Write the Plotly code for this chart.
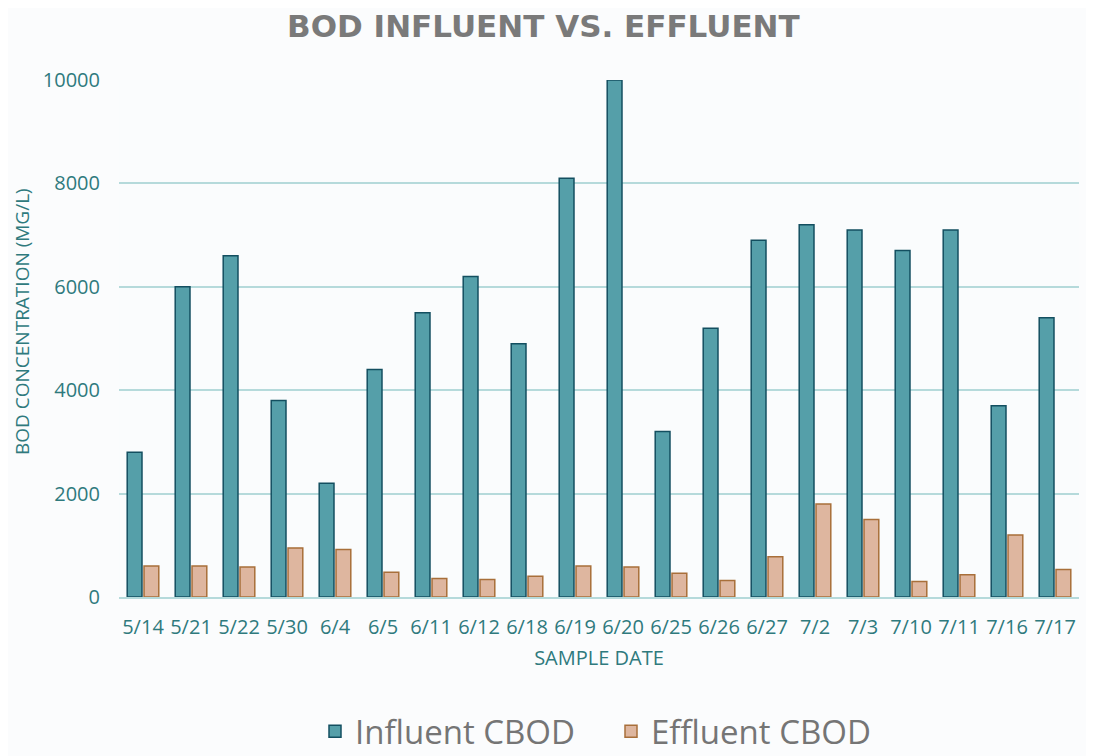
import plotly.graph_objects as go

dates = ["5/14", "5/21", "5/22", "5/30", "6/4", "6/5", "6/11", "6/12", "6/18", "6/19",
         "6/20", "6/25", "6/26", "6/27", "7/2", "7/3", "7/10", "7/11", "7/16", "7/17"]
influent = [2800, 6000, 6600, 3800, 2200, 4400, 5500, 6200, 4900, 8100,
            10000, 3200, 5200, 6900, 7200, 7100, 6700, 7100, 3700, 5400]
effluent = [600, 600, 580, 950, 920, 480, 360, 340, 400, 600,
            580, 460, 320, 780, 1800, 1500, 300, 430, 1200, 530]

teal = "#2f7a7d"

fig = go.Figure()
fig.add_trace(go.Bar(
    x=dates, y=influent, name="Influent CBOD",
    marker=dict(color="#559fa9", line=dict(color="#134f60", width=1.5)),
))
fig.add_trace(go.Bar(
    x=dates, y=effluent, name="Effluent CBOD",
    marker=dict(color="#deb69f", line=dict(color="#a86f3a", width=1.5)),
))

# y axis title as annotation so it can sit a little above centre like the original
fig.add_annotation(text="BOD CONCENTRATION (MG/L)", textangle=-90,
                   xref="paper", yref="paper", x=-0.101, y=0.532,
                   xanchor="center", yanchor="middle",
                   showarrow=False, font=dict(size=19, color=teal))

fig.update_layout(
    width=1086, height=748,
    barmode="group", bargap=0.3, bargroupgap=0.12,
    paper_bgcolor="#fbfcfd", plot_bgcolor="#fafcfd",
    margin=dict(l=111, r=15, t=72, b=159),
    title=dict(text="<b>BOD INFLUENT VS. EFFLUENT</b>", x=0.493, xanchor="center",
               y=0.976, yanchor="middle",
               font=dict(family="DejaVu Sans", size=31, color="#7a7a7a")),
    font=dict(family="Open Sans", color=teal),
    xaxis=dict(
        title=dict(text="SAMPLE DATE", font=dict(size=20, color=teal), standoff=12),
        tickfont=dict(size=20, color=teal), showgrid=False, ticklabelstandoff=11,
        showline=True, linecolor="#b5dadb", linewidth=2, ticks="",
    ),
    yaxis=dict(
        range=[0, 10000], tickvals=[0, 2000, 4000, 6000, 8000, 10000], tickformat="d",
        tickfont=dict(size=20, color=teal), ticklabelstandoff=18,
        gridcolor="#b5dadb", gridwidth=1.5, zeroline=False, ticks="",
    ),
    legend=dict(orientation="h", x=0.5125, xanchor="center",
                yref="container", y=0.033, yanchor="middle",
                font=dict(family="Open Sans", size=33, color="#757575"),
                itemwidth=30, entrywidth=251, entrywidthmode="pixels",
                bgcolor="rgba(0,0,0,0)"),
)

fig.write_html("out.html")
